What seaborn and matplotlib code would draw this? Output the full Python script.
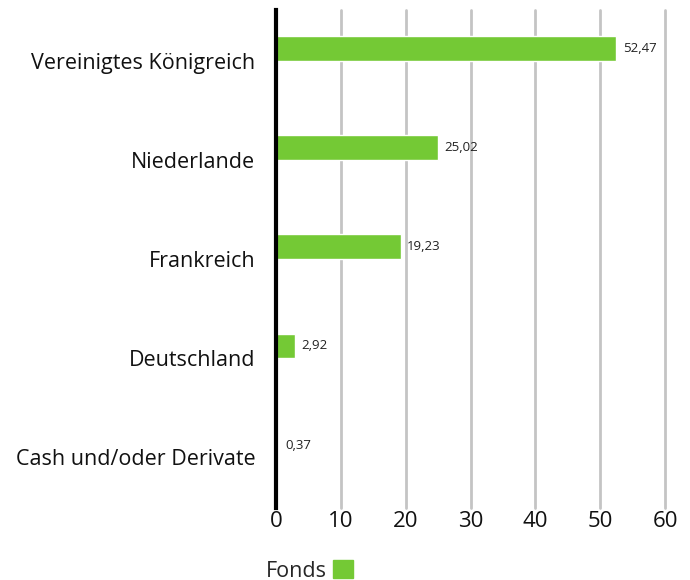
import numpy as np
import pandas as pd
import matplotlib
matplotlib.use("Agg")
import matplotlib.pyplot as plt
import seaborn as sns
from matplotlib.patches import Patch

# =====================================================
# DATOS
# =====================================================

laender = [
    "Vereinigtes Königreich",
    "Niederlande",
    "Frankreich",
    "Deutschland",
    "Cash und/oder Derivate"
]

fonds = [52.47, 25.02, 19.23, 2.92, 0.37]

x_ticks = [0, 10, 20, 30, 40, 50, 60]

gruen = "#74c935"

df = pd.DataFrame({"Land": laender, "Fonds": fonds})

# =====================================================
# GRAFIK
# =====================================================

sns.set_style("white")
plt.rcParams["font.family"] = ["Open Sans", "DejaVu Sans"]

fig = plt.figure(figsize=(6.9, 5.8), dpi=100)
ax = fig.add_axes([0.4, 0.124, 0.564, 0.859])

sns.barplot(
    data=df,
    x="Fonds",
    y="Land",
    color=gruen,
    width=0.25,
    saturation=1,
    ax=ax
)

# Etiquetas un poco por debajo de la barra
ax.set_yticks(np.arange(len(laender)) + 0.125)
ax.set_yticklabels(laender, fontsize=15.5, color="#111111")
ax.set_ylim(4.635, -0.388)

ax.set_xlim(0, 60)
ax.set_xticks(x_ticks)
ax.set_xticklabels([str(t) for t in x_ticks], fontsize=16, color="#111111")
ax.set_xlabel("")
ax.set_ylabel("")

ax.grid(axis="x", color="#c4c4c4", linewidth=2)
for linea in ax.get_xgridlines():
    linea.set_clip_on(False)
ax.set_axisbelow(True)
ax.tick_params(axis="both", length=0)
ax.tick_params(axis="y", pad=15)
ax.tick_params(axis="x", pad=2)

for s in ["top", "right", "bottom"]:
    ax.spines[s].set_visible(False)
ax.spines["left"].set_color("black")
ax.spines["left"].set_linewidth(3)
ax.spines["left"].set_zorder(5)

for i, v in enumerate(fonds):
    ax.text(
        v + 1.0, i,
        f"{v:.2f}".replace(".", ","),
        va="center", ha="left",
        fontsize=9.5, color="#222222"
    )

fig.legend(
    handles=[Patch(color=gruen, label="Fonds")],
    loc="lower left",
    bbox_to_anchor=(0.357, -0.036),
    frameon=False,
    markerfirst=False,
    fontsize=15.5,
    handlelength=0.9,
    handleheight=0.9,
    handletextpad=0.3
)

fig.savefig("out.png", dpi=100)
